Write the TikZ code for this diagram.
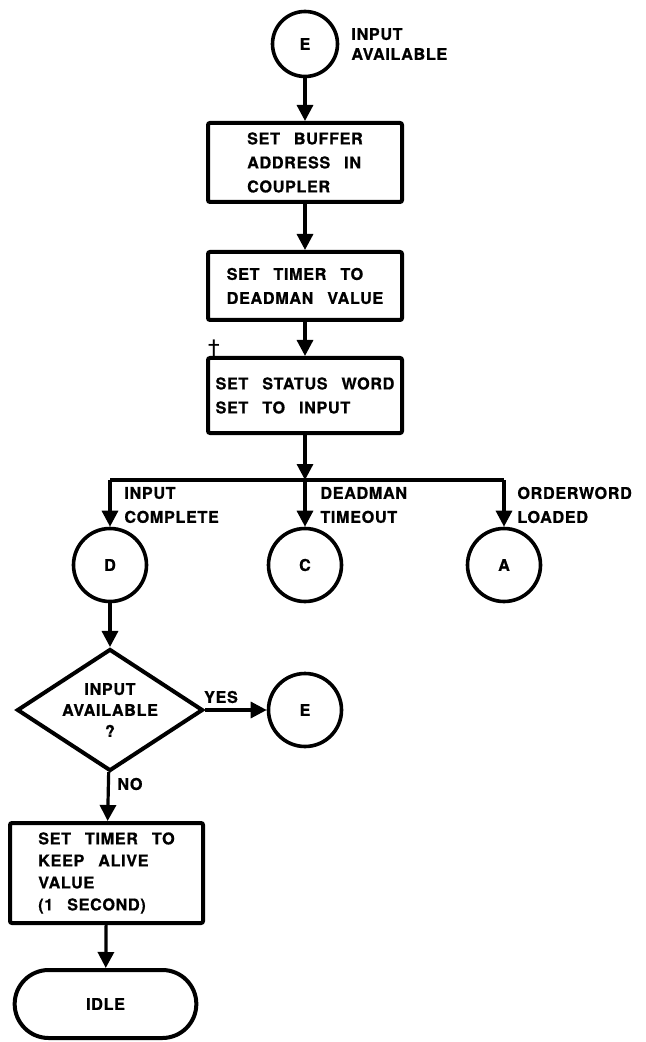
\documentclass[tikz,border=0pt]{standalone}
\usepackage{fontspec}
\setmainfont{TeX Gyre Heros}[LetterSpace=4,WordSpace=2.7,BoldFeatures={FakeBold=0.8}]
\usetikzlibrary{arrows.meta,shapes.geometric,shapes.misc}
\begin{document}
\begin{tikzpicture}[x=0.5pt,y=-0.5pt,
  every node/.style={font=\bfseries\fontsize{8.1pt}{12pt}\selectfont},
  box/.style={draw,line width=2pt,rounded corners=1pt,minimum width=97pt,align=left,inner sep=1pt},
  conn/.style={draw,circle,line width=1.8pt,minimum size=36.5pt,inner sep=0pt},
  decision/.style={draw,diamond,line width=2pt,minimum width=93pt,minimum height=61pt,inner sep=0pt},
  terminal/.style={draw,rounded rectangle,line width=2pt,minimum width=97.5pt,minimum height=34pt},
  note/.style={anchor=west,align=left,inner sep=0pt},
  flow/.style={line width=1.6pt,-{Triangle[width=8pt,length=8pt]}}]
  \useasboundingbox (0,0) rectangle (645,1042);
  % entry
  \node[conn,minimum size=32.5pt] (e1) at (305,44) {E};
  \node[note,font=\bfseries\fontsize{8.1pt}{10pt}\selectfont] (e1note) at (351,44) {INPUT\\AVAILABLE};
  \node[box,minimum height=39.5pt] (buf) at (305,162.5) {SET BUFFER\\ADDRESS IN\\COUPLER};
  \node[box,minimum height=34pt] (dead) at (305,286) {SET TIMER TO\\DEADMAN VALUE};
  \node[box,minimum height=37.5pt] (stat) at (305,395.5) {SET STATUS WORD\\SET TO INPUT};
  \node[inner sep=0pt,font=\fontsize{11pt}{11pt}\selectfont] (dag) at (214,350) {\dag};
  \draw[flow] (e1) -- (buf);
  \draw[flow] (buf) -- (dead);
  \draw[flow] (dead) -- (stat);
  % three way branch
  \coordinate (split) at (305,480);
  \node[conn] (d) at (110,565) {D};
  \node[conn] (c) at (305,565) {C};
  \node[conn] (a) at (504,565) {A};
  \draw[flow] (stat) -- (split);
  \draw[line width=1.6pt] (d |- split) -- (a |- split);
  \draw[flow] (d |- split) -- (d);
  \draw[flow] (split) -- (c);
  \draw[flow] (a |- split) -- (a);
  \node[note] (dnote) at (124,505) {INPUT\\COMPLETE};
  \node[note] (cnote) at (320,505) {DEADMAN\\TIMEOUT};
  \node[note] (anote) at (517,505) {ORDERWORD\\LOADED};
  % test for more input
  \node[decision,label={[align=center,font=\bfseries\fontsize{8.1pt}{10.5pt}\selectfont]center:{INPUT\\AVAILABLE\\?}}] (q) at (110,710) {};
  \node[conn] (e2) at (305,710) {E};
  \node[box,minimum height=50pt,minimum width=96.5pt,font=\bfseries\fontsize{8.1pt}{11pt}\selectfont] (keep) at (106.5,873) {SET TIMER TO\\KEEP ALIVE\\VALUE\\(1 SECOND)};
  \node[terminal] (idle) at (105.5,1004) {IDLE};
  \draw[flow] (d) -- (q);
  \draw[flow] (q) -- (e2);
  \draw[flow] (q) -- (keep);
  \draw[flow] (keep) -- (idle);
  \node[inner sep=0pt] (yes) at (221,697) {YES};
  \node[note] (no) at (117,784) {NO};
\end{tikzpicture}
\end{document}
